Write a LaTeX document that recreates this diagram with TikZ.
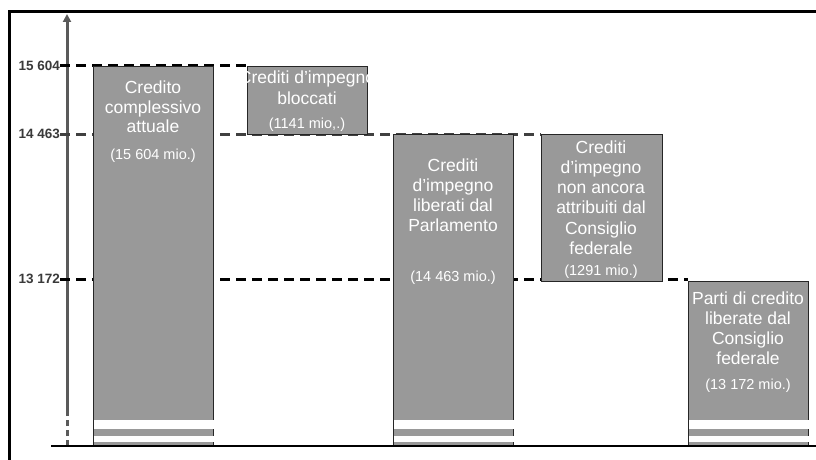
\documentclass[tikz,border=0pt]{standalone}
\usepackage{fontspec}
\setmainfont{Liberation Sans}
\usetikzlibrary{arrows.meta}
\definecolor{barfill}{HTML}{999999}
\definecolor{axisgrey}{HTML}{5A5A5A}
\definecolor{labgrey}{HTML}{3A3A3A}
\tikzset{
  barbox/.style={draw=black!85, line width=0.8pt, fill=barfill, inner sep=0pt, anchor=north west, minimum width=120pt},
  bartext/.style={text=white, align=center, font=\fontsize{17.5}{19.5}\selectfont, inner sep=0pt},
  smalltext/.style={text=white, font=\fontsize{14.5}{16}\selectfont, inner sep=0pt},
  levellab/.style={text=labgrey, font=\bfseries\fontsize{13.5}{15}\selectfont, anchor=east, inner sep=0pt},
  level/.style={line width=3pt, dash pattern=on 10pt off 6pt},
  stripe/.style={fill=white, draw=none},
}
\begin{document}
\begin{tikzpicture}[x=1pt,y=-1pt]
\useasboundingbox (0,0) rectangle (816,460);
% frame
\draw[line width=3pt] (9,460) -- (9,12) -- (816,12);
% axis
\coordinate (axbot) at (67,446);
\coordinate (axmid) at (67,415);
\coordinate (axtop) at (67,14);
\draw[axisgrey, line width=3pt, dash pattern=on 6pt off 4pt] (axbot) -- (axmid);
\draw[axisgrey, line width=3pt, -{Triangle[length=8pt,width=8pt]}] (axmid) -- (axtop);
% level labels
\node[levellab] (l1) at (60,66) {15 604};
\node[levellab] (l2) at (60,134) {14 463};
\node[levellab] (l3) at (60,279) {13 172};
% dashed level lines (drawn under boxes)
\coordinate (d1e) at (247,66);
\coordinate (d2e) at (541,134);
\coordinate (d3e) at (688,279);
\draw[level, black] (l1.east) -- (d1e);
\draw[level, black!75] (l2.east) -- (d2e);
\draw[level, black] (l3.east) -- (d3e);
% baseline
\coordinate (bl0) at (51,446);
\coordinate (bl1) at (816,446);
% boxes
\node[barbox, minimum height=380pt] (b1) at (93,66) {};
\node[barbox, minimum height=68pt]  (b2) at (247,66) {};
\node[barbox, minimum height=312pt] (b3) at (393,134) {};
\node[barbox, minimum height=147pt, minimum width=121pt] (b4) at (541,134) {};
\node[barbox, minimum height=165pt] (b5) at (688,281) {};
% stripes
\foreach \xx in {93,393,688}{
  \fill[stripe] (\xx+0.5,420) rectangle (\xx+121,429);
  \fill[stripe] (\xx+0.5,436) rectangle (\xx+121,442);
}
\draw[line width=2pt] (bl0) -- (bl1);
% texts
\node[bartext] (t1) at (153,107) {Credito\\complessivo\\attuale};
\node[smalltext] (s1) at (153,156) {(15 604 mio.)};
\node[bartext, font=\fontsize{17.5}{21}\selectfont] (t2) at (307,87.5) {Crediti d’impegno\\bloccati};
\node[smalltext] (s2) at (307,125) {(1141 mio,.)};
\node[bartext, font=\fontsize{17.5}{20}\selectfont] (t3) at (453,195) {Crediti\\d’impegno\\liberati dal\\Parlamento};
\node[smalltext] (s3) at (453,278) {(14 463 mio.)};
\node[bartext, font=\fontsize{17.5}{20.2}\selectfont] (t4) at (601,197.5) {Crediti\\d’impegno\\non ancora\\attribuiti dal\\Consiglio\\federale};
\node[smalltext] (s4) at (601,272) {(1291 mio.)};
\node[bartext, font=\fontsize{17.5}{20}\selectfont] (t5) at (748,328) {Parti di credito\\liberate dal\\Consiglio\\federale};
\node[smalltext] (s5) at (748,386) {(13 172 mio.)};
\end{tikzpicture}
\end{document}
